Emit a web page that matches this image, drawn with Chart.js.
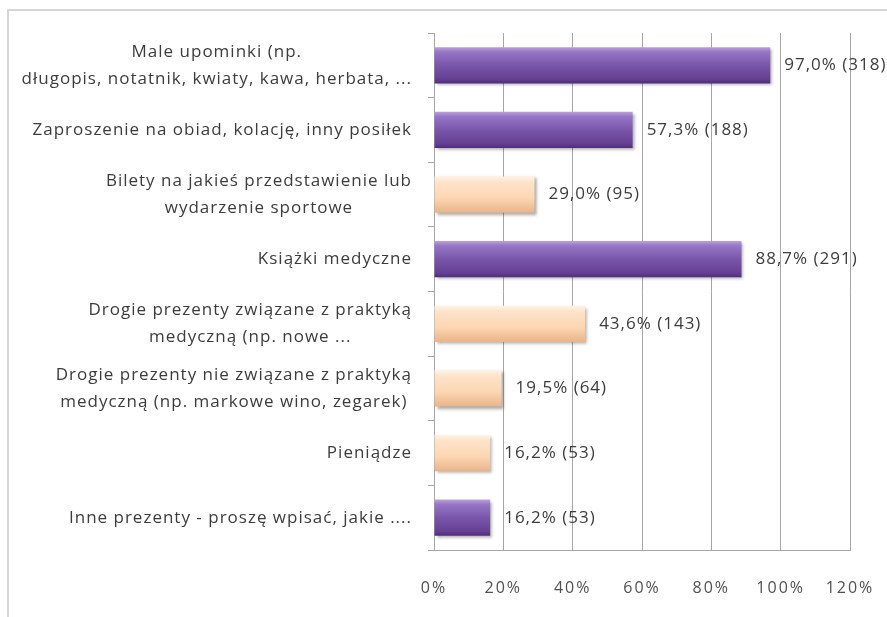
<!DOCTYPE html>
<html>
<head>
<meta charset="utf-8">
<script src="https://cdn.jsdelivr.net/npm/chart.js@4.4.1/dist/chart.umd.min.js"></script>
<style>
  html, body { margin: 0; padding: 0; background: #fff; }
  #wrap { position: relative; width: 887px; height: 617px; overflow: hidden; }
  #frame { position: absolute; left: 7px; top: 9px; width: 900px; height: 700px;
           border-top: 2px solid #d6d6d6; border-left: 2px solid #d6d6d6; }
  #chart { position: absolute; left: 0; top: 0; }
</style>
</head>
<body>
<div id="wrap">
  <div id="frame"></div>
  <canvas id="chart" width="887" height="617"></canvas>
</div>
<script>
// Kategorie (każda linia osobno)
const categories = [
  ["Male upominki (np.", "długopis, notatnik, kwiaty, kawa, herbata, ..."],
  ["Zaproszenie na obiad, kolację, inny posiłek"],
  ["Bilety na jakieś przedstawienie lub", "wydarzenie sportowe"],
  ["Książki medyczne"],
  ["Drogie prezenty związane z praktyką", "medyczną (np. nowe ..."],
  ["Drogie prezenty nie związane z praktyką", "medyczną (np. markowe wino, zegarek)"],
  ["Pieniądze"],
  ["Inne prezenty - proszę wpisać, jakie ...."]
];
// Odsetek odpowiedzi (%)
const percents = [97.0, 57.3, 29.0, 88.7, 43.6, 19.5, 16.2, 16.2];
// Liczba odpowiedzi
const counts = [318, 188, 95, 291, 143, 64, 53, 53];
// Podziałka osi X
const xTicks = [0, 20, 40, 60, 80, 100, 120];

// styl słupków: fioletowy / brzoskwiniowy
const purpleBar = [true, true, false, true, false, false, false, true];

const TEXT = "#3c3c3c";
const GRID = "#a6a6a6";
const FONT = "'Open Sans', sans-serif";

// gradient dla pojedynczego słupka
function barFill(c) {
  const chart = c.chart;
  const purple = purpleBar[c.dataIndex];
  if (!chart.chartArea) return purple ? "#7a56aa" : "#fcd9b8";
  const y = chart.scales.y.getPixelForValue(c.dataIndex);
  const h = chart.scales.y.height / categories.length * 0.56;
  const g = chart.ctx.createLinearGradient(0, y - h / 2, 0, y + h / 2);
  if (purple) {
    g.addColorStop(0, "#b9a2de");
    g.addColorStop(0.13, "#9676c6");
    g.addColorStop(0.5, "#7a56aa");
    g.addColorStop(0.88, "#643f92");
    g.addColorStop(1, "#4f2d78");
  } else {
    g.addColorStop(0, "#fff3e6");
    g.addColorStop(0.16, "#fee3c9");
    g.addColorStop(0.6, "#fcd6b2");
    g.addColorStop(1, "#e8b48a");
  }
  return g;
}

// cień pod słupkami
const shadowPlugin = {
  id: "shadow",
  beforeDatasetsDraw(chart) {
    const ctx = chart.ctx;
    ctx.save();
    ctx.shadowColor = "rgba(0,0,0,0.35)";
    ctx.shadowOffsetX = 2;
    ctx.shadowOffsetY = 2;
    ctx.shadowBlur = 3;
  },
  afterDatasetsDraw(chart) {
    chart.ctx.restore();
  },
  beforeDraw(chart) {
    // szerszy rozstaw liter dla podziałki osi X
    chart.ctx.letterSpacing = "2px";
  }
};

// etykiety wartości przy słupkach
const valueLabels = {
  id: "valueLabels",
  afterDatasetsDraw(chart) {
    const ctx = chart.ctx;
    const meta = chart.getDatasetMeta(0);
    ctx.save();
    ctx.letterSpacing = "1px";
    ctx.font = "17px " + FONT;
    ctx.fillStyle = TEXT;
    ctx.textAlign = "left";
    ctx.textBaseline = "middle";
    meta.data.forEach((bar, i) => {
      const txt = percents[i].toFixed(1).replace(".", ",") + "% (" + counts[i] + ")";
      ctx.fillText(txt, bar.x + 14, bar.y);
    });
    ctx.restore();
  }
};

// etykiety kategorii: blok wyrównany do prawej, linie wyśrodkowane
const categoryLabels = {
  id: "categoryLabels",
  afterDraw(chart) {
    const ctx = chart.ctx;
    const yScale = chart.scales.y;
    const right = chart.chartArea.left - 22;
    const lineH = 27;
    ctx.save();
    ctx.letterSpacing = "1px";
    ctx.font = "17px " + FONT;
    ctx.fillStyle = TEXT;
    ctx.textAlign = "center";
    ctx.textBaseline = "middle";
    categories.forEach((lines, i) => {
      const y = yScale.getPixelForValue(i);
      const maxW = Math.max(...lines.map(l => ctx.measureText(l).width));
      const cx = right - maxW / 2;
      lines.forEach((l, j) => {
        ctx.fillText(l, cx, y + (j - (lines.length - 1) / 2) * lineH);
      });
    });
    ctx.restore();
  }
};

new Chart(document.getElementById("chart"), {
  type: "bar",
  data: {
    labels: categories,
    datasets: [{
      data: percents,
      backgroundColor: barFill,
      borderWidth: 0,
      barPercentage: 0.56,
      categoryPercentage: 1
    }]
  },
  options: {
    indexAxis: "y",
    responsive: false,
    animation: false,
    layout: { padding: { top: 33, right: 37, left: 0, bottom: 0 } },
    plugins: { legend: { display: false }, tooltip: { enabled: false } },
    scales: {
      x: {
        min: 0,
        max: 120,
        afterBuildTicks(scale) {
          scale.ticks = xTicks.map(v => ({ value: v }));
        },
        afterFit(scale) {
          scale.height = 67;
          scale.paddingLeft = 0;
          scale.paddingRight = 0;
        },
        grid: { color: GRID, drawTicks: false },
        border: { color: GRID },
        ticks: {
          padding: 29,
          color: "#505050",
          font: { family: FONT, size: 16 },
          callback: v => v + "%"
        }
      },
      y: {
        afterFit(scale) { scale.width = 434; },
        grid: { display: true, drawOnChartArea: false, drawTicks: true, tickLength: 6, color: GRID, offset: true },
        border: { color: GRID },
        ticks: { display: false }
      }
    }
  },
  plugins: [shadowPlugin, valueLabels, categoryLabels]
});
</script>
</body>
</html>
